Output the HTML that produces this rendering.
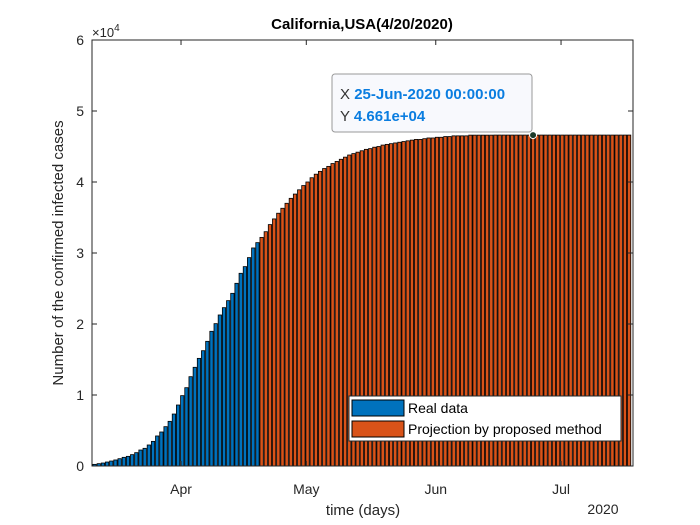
<!DOCTYPE html>
<html><head><meta charset="utf-8"><style>
body{margin:0;background:#fff;}
svg{display:block;font-family:"Liberation Sans",Arial,sans-serif;}
</style></head><body>
<svg id="c" width="700" height="525">
<defs><clipPath id="pc"><rect x="92" y="40" width="541" height="426"/></clipPath></defs>
<rect x="0" y="0" width="700" height="525" fill="#fff"/>
<g id="bars" clip-path="url(#pc)"></g>
<rect x="92" y="40" width="541" height="426" fill="none" stroke="#262626" stroke-width="1"/>
<g id="axes"></g>
<text x="362" y="29" text-anchor="middle" font-size="15" font-weight="bold" fill="#000">California,USA(4/20/2020)</text>
<text x="92" y="37" font-size="13" fill="#262626">×10<tspan dy="-6" font-size="10">4</tspan></text>
<text transform="translate(63,253) rotate(-90)" text-anchor="middle" font-size="15" fill="#262626">Number of the confirmed infected cases</text>
<text x="363" y="515" text-anchor="middle" font-size="15" fill="#262626">time (days)</text>
<text x="603" y="514" text-anchor="middle" font-size="14" fill="#262626">2020</text>
<g>
<rect x="349" y="396" width="272" height="45" fill="#fff" stroke="#262626" stroke-width="1"/>
<rect x="352" y="400" width="52" height="16" fill="#0072BD" stroke="#000"/>
<text x="408" y="413" font-size="14" fill="#000">Real data</text>
<rect x="352" y="421" width="52" height="16" fill="#D95319" stroke="#000"/>
<text x="408" y="434" font-size="14" fill="#000">Projection by proposed method</text>
</g>
<g>
<rect x="332" y="74" width="200" height="58" rx="3" fill="#f8f9fd" stroke="#999" stroke-width="1"/>
<text x="340" y="99" font-size="15" fill="#333">X <tspan fill="#0a7de0" font-weight="bold">25-Jun-2020 00:00:00</tspan></text>
<text x="340" y="121" font-size="15" fill="#333">Y <tspan fill="#0a7de0" font-weight="bold">4.661e+04</tspan></text>
<circle id="tip" cx="534" cy="134" r="3.5" fill="#1a3a2a" stroke="#fff" stroke-width="1"/>
</g>
</svg>
<script>
// values in units of 1e4; real data Mar 11 .. Apr 20, projection Apr 21 .. Jul 18
const realValues=[0.019,0.023,0.033,0.042,0.056,0.070,0.085,0.103,0.122,0.136,0.160,0.188,0.225,0.249,0.296,0.347,0.423,0.479,0.554,0.629,0.732,0.859,0.991,1.103,1.258,1.390,1.516,1.624,1.756,1.897,2.005,2.127,2.230,2.329,2.432,2.573,2.714,2.808,2.935,3.071,3.146];
const projValues=[3.22,3.30,3.40,3.48,3.56,3.63,3.70,3.77,3.83,3.89,3.95,4.00,4.06,4.11,4.15,4.19,4.22,4.26,4.29,4.32,4.35,4.38,4.40,4.42,4.44,4.46,4.47,4.49,4.50,4.52,4.53,4.54,4.55,4.56,4.57,4.58,4.59,4.60,4.60,4.61,4.62,4.62,4.63,4.63,4.64,4.64,4.65,4.65,4.65,4.65,4.66,4.66,4.66,4.66,4.66,4.66,4.661,4.661,4.661,4.661,4.661,4.661,4.661,4.661,4.661,4.661,4.661,4.661,4.661,4.661,4.661,4.661,4.661,4.661,4.661,4.661,4.661,4.661,4.661,4.661,4.661,4.661,4.661,4.661,4.661,4.661,4.661,4.661,4.661];
const yTicks=[0,1,2,3,4,5,6];
const xTickLabels=["Apr","May","Jun","Jul"];
const xTickDays=[21.7,51.7,82.7,112.7]; // days since Mar 11
const startDay=0;
const NS="http://www.w3.org/2000/svg";
const pxDay=4.176;
function xs(d){return 90.4+(d-startDay)*pxDay;}
function ys(v){return 466-v*71;}
const bars=document.getElementById('bars');
const all=realValues.map(v=>[v,'#0072BD']).concat(projValues.map(v=>[v,'#D95319']));
all.forEach((p,i)=>{
  const r=document.createElementNS(NS,'rect');
  const w=pxDay*0.8;
  r.setAttribute('x',xs(i)-w/2);r.setAttribute('width',w);
  r.setAttribute('y',ys(p[0]));r.setAttribute('height',466-ys(p[0]));
  r.setAttribute('fill',p[1]);r.setAttribute('stroke','#000');r.setAttribute('stroke-width','0.8');
  
  
  bars.appendChild(r);
});
const axes=document.getElementById('axes');
yTicks.forEach(t=>{
  const y=ys(t);
  const l=document.createElementNS(NS,'path');
  l.setAttribute('d',`M92 ${y}h5M633 ${y}h-5`);l.setAttribute('stroke','#262626');
  
  
  axes.appendChild(l);
  const tx=document.createElementNS(NS,'text');
  tx.setAttribute('x',84);tx.setAttribute('y',y+5);tx.setAttribute('text-anchor','end');
  tx.setAttribute('font-size','14');tx.setAttribute('fill','#262626');tx.textContent=t;
  
  
  axes.appendChild(tx);
});
xTickDays.forEach((d,i)=>{
  const x=xs(d);
  const l=document.createElementNS(NS,'path');
  l.setAttribute('d',`M${x} 466v-5M${x} 40v5`);l.setAttribute('stroke','#262626');
  
  
  axes.appendChild(l);
  const tx=document.createElementNS(NS,'text');
  tx.setAttribute('x',x);tx.setAttribute('y',494);tx.setAttribute('text-anchor','middle');
  tx.setAttribute('font-size','14');tx.setAttribute('fill','#262626');tx.textContent=xTickLabels[i];
  
  
  axes.appendChild(tx);
});
const tipDay=106, tip=document.getElementById('tip');
tip.setAttribute('cx',xs(tipDay));tip.setAttribute('cy',ys(all[tipDay][0]));
</script>
</body></html>
